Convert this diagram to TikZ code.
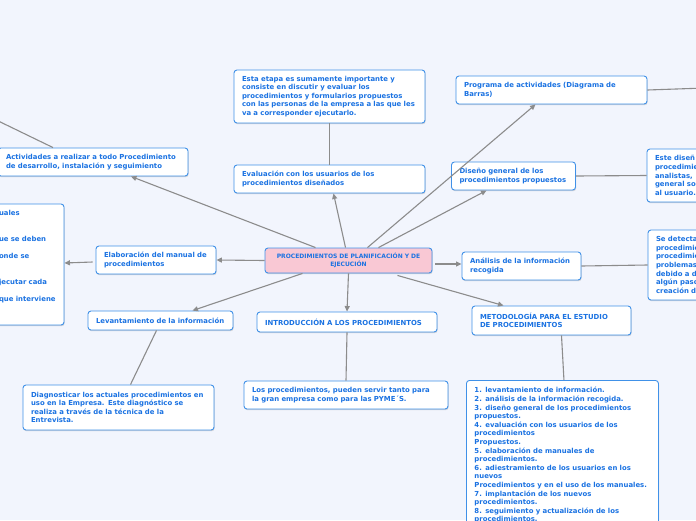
\documentclass[tikz,border=0pt]{standalone}
\usepackage{fontspec}
\newfontfamily\mapfam{DejaVu Sans}
\usepackage{xcolor}
\usepackage{tikz}
\usetikzlibrary{arrows.meta, shadows}

\definecolor{mapbg}{RGB}{242,245,253}
\definecolor{mapblue}{RGB}{64,145,232}
\definecolor{maptext}{RGB}{26,114,226}
\definecolor{mappink}{RGB}{249,200,212}
\definecolor{linkgray}{RGB}{140,140,140}

\newcommand{\mapfont}{\mapfam\bfseries\fontsize{6.9}{8.6}\selectfont}
\newcommand{\rootfont}{\mapfam\bfseries\fontsize{6}{7.4}\selectfont}

\tikzset{
  mapbox/.style={draw=mapblue, fill=white, line width=0.9pt, rounded corners=3pt,
    inner xsep=8pt, inner ysep=2pt, align=left, font=\mapfont, text=maptext,
    drop shadow={shadow xshift=0.6pt, shadow yshift=-1.2pt, opacity=0.25, fill=black!60}},
  rootbox/.style={mapbox, fill=mappink, align=center, font=\rootfont},
  link/.style={draw=linkgray, line width=1.1pt},
  arrowlink/.style={link, -{Triangle[length=5.5pt, width=5pt]}},
}

\begin{document}
\begin{tikzpicture}[x=1pt, y=-1pt]
  \useasboundingbox (0,0) rectangle (696,520);
  \clip (0,0) rectangle (696,520);
  \fill[mapbg] (0,0) rectangle (696,520);

  % Central topic
  \node[rootbox, text width=151pt, minimum height=25pt] (root) at (348.5,260.5)
    {PROCEDIMIENTOS DE PLANIFICACIÓN Y DE\\EJECUCIÓN};

  % Upper branches
  \node[mapbox, text width=174pt, minimum height=28pt] (activ) at (93,162)
    {Actividades a realizar a todo Procedimiento\\de desarrollo, instalación y seguimiento};
  \node[mapbox, text width=175pt, minimum height=28pt] (evalua) at (329.5,179)
    {Evaluación con los usuarios de los\\procedimientos diseñados};
  \node[mapbox, text width=175pt, minimum height=53pt] (evaluatxt) at (329.5,96.5)
    {Esta etapa es sumamente importante y\\consiste en discutir y evaluar los\\procedimientos y formularios propuestos\\con las personas de la empresa a las que les\\va a corresponder ejecutarlo.};
  \node[mapbox, text width=175pt, minimum height=28pt] (programa) at (551.5,90)
    {Programa de actividades (Diagrama de\\Barras)};
  \node[mapbox, text width=108pt, minimum height=28pt] (diseno) at (513.5,176)
    {Diseño general de los\\procedimientos propuestos};
  \node[mapbox, text width=114pt, minimum height=53pt] (disenotxt) at (712,175.5)
    {Este diseñ\\procedimie\\analistas,\\general so\\al usuario.};

  % Side branches
  \node[mapbox, text width=104pt, minimum height=28pt] (elabora) at (156,260)
    {Elaboración del manual de\\procedimientos};
  \node[mapbox, inner xsep=7pt, text width=58pt, minimum height=121pt] (elaboratxt) at (28,264.5)
    {uales\\[17.2pt]ue se deben\\[8.6pt]onde se\\[17.2pt]jecutar cada\\[8.6pt]que interviene\\[8.6pt]\mbox{}};
  \node[mapbox, text width=103pt, minimum height=28pt] (analisis) at (521.5,266)
    {Análisis de la información\\recogida};
  \node[mapbox, text width=114pt, minimum height=70pt] (analisistxt) at (713,265)
    {Se detecta\\procedimie\\procedimie\\problemas\\debido a d\\algún paso\\creación d};

  % Lower branches
  \node[mapbox, text width=129pt, minimum height=19pt] (levanta) at (160.5,320.5)
    {Levantamiento de la información};
  \node[mapbox, text width=175pt, minimum height=45pt] (levantatxt) at (118.5,407.5)
    {Diagnosticar los actuales procedimientos en\\uso en la Empresa. Este diagnóstico se\\realiza a través de la técnica de la\\Entrevista.};
  \node[mapbox, text width=164pt, minimum height=20pt] (intro) at (347,322)
    {INTRODUCCIÓN A LOS PROCEDIMIENTOS};
  \node[mapbox, text width=188pt, minimum height=28pt] (introtxt) at (346,395)
    {Los procedimientos, pueden servir tanto para\\la gran empresa como para las PYME´S.};
  \node[mapbox, text width=143pt, minimum height=29pt] (metodo) at (551.5,320.5)
    {METODOLOGÍA PARA EL ESTUDIO\\DE PROCEDIMIENTOS};
  \node[mapbox, text width=176pt, inner ysep=7pt, anchor=north west] (metodotxt) at (466,380)
    {1. levantamiento de información.\\
     2. análisis de la información recogida.\\
     3. diseño general de los procedimientos\\
     propuestos.\\
     4. evaluación con los usuarios de los\\
     procedimientos\\
     Propuestos.\\
     5. elaboración de manuales de\\
     procedimientos.\\
     6. adiestramiento de los usuarios en los\\
     nuevos\\
     Procedimientos y en el uso de los manuales.\\
     7. implantación de los nuevos\\
     procedimientos.\\
     8. seguimiento y actualización de los\\
     procedimientos.};

  % Ends running off the page
  \coordinate (progout) at (705,88);
  \coordinate (activout) at (-10,117);

  % Arrows from the central topic
  \draw[arrowlink] ([xshift=-33pt]root.north) -- ([xshift=38pt]activ.south);
  \draw[arrowlink] ([xshift=-3pt]root.north) -- ([xshift=4pt]evalua.south);
  \draw[arrowlink] ([xshift=19pt]root.north) -- ([xshift=-16pt]programa.south);
  \draw[arrowlink] ([xshift=30pt]root.north) -- ([xshift=-27pt]diseno.south);
  \draw[arrowlink] (root.west) -- (elabora.east);
  \draw[arrowlink] ([xshift=-3pt, yshift=-2pt]elabora.west) -- ([yshift=1.5pt]elaboratxt.east);
  \draw[arrowlink] ([xshift=-46pt]root.south) -- ([xshift=32pt]levanta.north);
  \draw[arrowlink] (root.south) -- (intro.north);
  \draw[arrowlink] ([xshift=3pt, yshift=-3.5pt]root.east) -- ([yshift=2pt]analisis.west);
  \draw[arrowlink] ([xshift=49pt, yshift=-2pt]root.south) -- ([xshift=-48pt]metodo.north);

  % Plain links to the detail boxes
  \draw[link] (evalua.north) -- (evaluatxt.south);
  \draw[link] (diseno.east) -- (disenotxt.west);
  \draw[link] (programa.east) -- (progout);
  \draw[link] (analisis.east) -- (analisistxt.west);
  \draw[link] ([xshift=-40pt]activ.north) -- (activout);
  \draw[link] ([xshift=-4pt]levanta.south) -- ([xshift=12pt]levantatxt.north);
  \draw[link] (intro.south) -- (introtxt.north);
  \draw[link] ([xshift=10pt]metodo.south) -- ([xshift=1.5pt]metodotxt.north);
\end{tikzpicture}
\end{document}
